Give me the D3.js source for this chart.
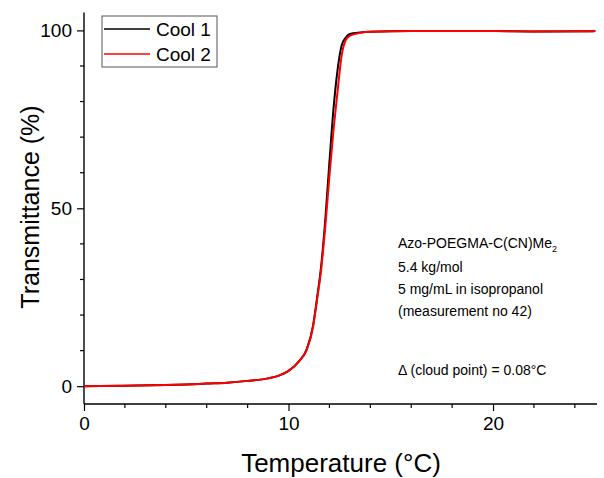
<!DOCTYPE html>
<html><head><meta charset="utf-8">
<script src="https://cdn.jsdelivr.net/npm/d3@7"></script>
<style>body{margin:0;background:#fff}svg{display:block;font-family:"Liberation Sans",Arial,sans-serif}</style>
</head><body>
<svg id="c" width="604" height="478"></svg>
<script>
const temps = [0,2,4,5,6,7,8,9,9.5,10,10.5,10.9,11.2,11.4,11.6,11.8,12.0,12.2,12.4,12.6,12.8,13.0,13.5,14,16,18,20,22,25];
const cool1 = [0,0.15,0.35,0.5,0.75,1.0,1.5,2.2,2.9,4.3,6.9,10.5,17,25,34,47,63,78,89,95.8,98,99,99.4,99.6,99.8,99.8,99.8,99.7,99.8];
const cool2 = [0,0.15,0.35,0.5,0.75,1.0,1.5,2.2,2.9,4.3,6.9,10.4,16.7,24.5,33,45,59,72,83,93,97.3,98.5,99.3,99.6,99.8,99.8,99.8,99.7,99.8];
const seriesNames = ["Cool 1","Cool 2"];
const seriesColors = ["#000000","#ff0000"];
const xMajor = [0,10,20];
const yMajor = [0,50,100];
const notes = ["5.4 kg/mol","5 mg/mL in isopropanol","(measurement no 42)"];

const svg = d3.select("#c");
const x = d3.scaleLinear().domain([0,25]).range([84,595.3]);
const y = d3.scaleLinear().domain([-5,105]).range([404,12.6]);

const xMinor = d3.range(2,25,2).filter(v=>v%10!==0);
const yMinor = d3.range(10,100,10).filter(v=>v%50!==0);
svg.selectAll(".xm").data(xMinor).enter().append("line")
 .attr("x1",d=>x(d)).attr("x2",d=>x(d)).attr("y1",404).attr("y2",408).attr("stroke","#000").attr("stroke-width",1.2);
svg.selectAll(".ym").data(yMinor).enter().append("line")
 .attr("y1",d=>y(d)).attr("y2",d=>y(d)).attr("x1",84).attr("x2",80).attr("stroke","#000").attr("stroke-width",1.2);

const xAxis = svg.append("g").attr("transform","translate(0,404)")
 .call(d3.axisBottom(x).tickValues(xMajor).tickSize(7).tickPadding(6).tickFormat(d3.format("d")));
const yAxis = svg.append("g").attr("transform","translate(84,0)")
 .call(d3.axisLeft(y).tickValues(yMajor).tickSize(7).tickPadding(5).tickFormat(d3.format("d")));
[xAxis,yAxis].forEach(a=>{
  a.select(".domain").attr("stroke","#000").attr("stroke-width",1.4);
  a.selectAll(".tick line").attr("stroke-width",1.2);
  a.selectAll("text").attr("font-size",19).attr("font-family","Liberation Sans, Arial, sans-serif").attr("fill","#000");
});
xAxis.select(".domain").attr("d","M84,0H597");
yAxis.select(".domain").attr("d","M0,12.6V404");

const line = d3.line().x((d,i)=>x(temps[i])).y(d=>y(d)).curve(d3.curveMonotoneX);
[cool1,cool2].forEach((s,k)=>{
  svg.append("path").attr("d",line(s)).attr("fill","none").attr("stroke",seriesColors[k]).attr("stroke-width",2);
});

// legend
const lg = svg.append("g");
lg.append("rect").attr("x",102).attr("y",16).attr("width",115).attr("height",51).attr("fill","#fff").attr("stroke","#555").attr("stroke-width",1);
seriesNames.forEach((n,i)=>{
  const yy = 29 + i*25;
  lg.append("line").attr("x1",104).attr("x2",150).attr("y1",yy).attr("y2",yy).attr("stroke",seriesColors[i]).attr("stroke-width",1.5);
  lg.append("text").attr("x",156).attr("y",yy+7).attr("font-size",19).text(n);
});

// axis titles
svg.append("text").attr("x",341).attr("y",472).attr("text-anchor","middle").attr("font-size",26).text("Temperature (°C)");
svg.append("text").attr("transform","translate(39,207) rotate(-90)").attr("text-anchor","middle").attr("font-size",25).text("Transmittance (%)");

// annotation
const t1 = svg.append("text").attr("x",398).attr("y",248).attr("font-size",14);
t1.append("tspan").text("Azo-POEGMA-C(CN)Me");
t1.append("tspan").attr("dy",4).attr("font-size",9).text("2");
notes.forEach((s,i)=>{
  svg.append("text").attr("x",398).attr("y",272+i*22).attr("font-size",14).text(s);
});
svg.append("text").attr("x",398).attr("y",375).attr("font-size",14).text("Δ (cloud point) = 0.08°C");
</script>
</body></html>
